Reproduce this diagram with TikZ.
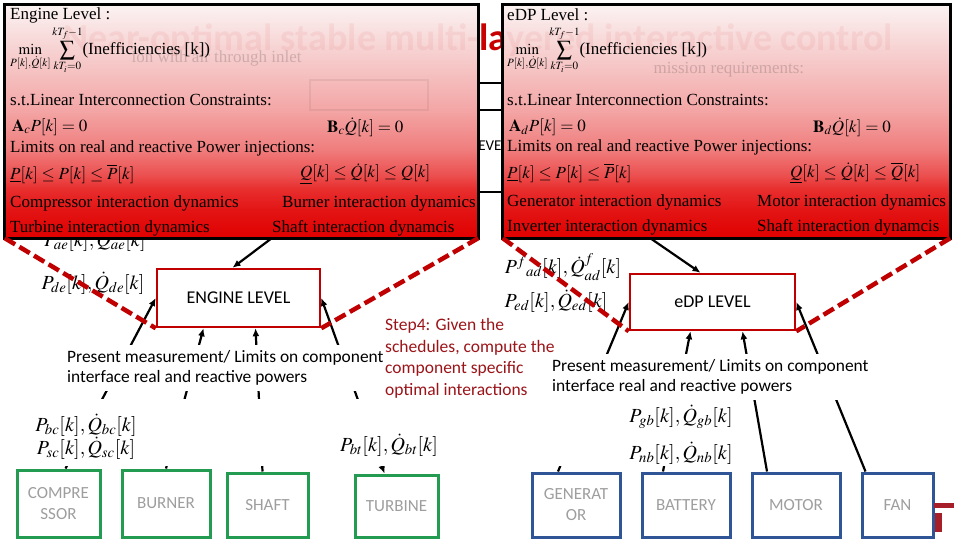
\documentclass[tikz,border=0pt]{standalone}
\usepackage{mathptmx}
\usepackage{fontspec}
\setmainfont{Carlito}
\newfontfamily\tnr{Liberation Serif}
\usetikzlibrary{arrows.meta,positioning,calc}
\definecolor{lvlred}{RGB}{192,0,0}
\definecolor{titlered}{RGB}{200,0,0}
\definecolor{stepred}{RGB}{155,20,25}
\definecolor{compgreen}{RGB}{35,155,80}
\definecolor{compblue}{RGB}{47,85,151}
\definecolor{logored}{RGB}{165,30,40}
\pgfdeclareverticalshading{redfade}{100bp}{rgb(0bp)=(0.88,0,0); rgb(25bp)=(0.88,0,0); rgb(31bp)=(0.89,0.08,0.08); rgb(35.5bp)=(0.91,0.18,0.18); rgb(38.5bp)=(0.925,0.31,0.31); rgb(44bp)=(0.94,0.49,0.49); rgb(52.5bp)=(0.955,0.65,0.65); rgb(63bp)=(0.965,0.79,0.79); rgb(75bp)=(0.985,0.95,0.95); rgb(100bp)=(0.985,0.95,0.95)}

\begin{document}
\begin{tikzpicture}[x=1pt,y=-1pt,
  lvl/.style={draw=lvlred, line width=2.5pt, fill=white, font=\fontsize{18}{21}\selectfont},
  engcomp/.style={draw=compgreen, line width=3pt, fill=white, align=center, text=black!38, font=\fontsize{17}{21}\selectfont},
  edpcomp/.style={engcomp, draw=compblue},
  ovfill/.style={shading=redfade, inner sep=0pt},
  ovtext/.style={anchor=west, inner sep=0pt, font=\tnr\fontsize{17}{20}\selectfont},
  ghost/.style={anchor=west, text=black, text opacity=0.16, font=\tnr\fontsize{17}{20}\selectfont},
  zoomline/.style={draw=lvlred, line width=4.5pt, dash pattern=on 12pt off 5pt},
  flow/.style={line width=2.2pt, -{Latex[length=8pt,width=7pt]}},
  flowboth/.style={line width=2.2pt, {Latex[length=8pt,width=7pt]}-{Latex[length=8pt,width=7pt]}},
  sig/.style={inner sep=1pt, font=\fontsize{20}{23}\selectfont},
  meas/.style={anchor=north west, align=left, fill=white, inner xsep=1pt, inner ysep=5pt, font=\fontsize{17.4}{20.5}\selectfont}]
\useasboundingbox (0,0) rectangle (960,540);
\fill[white] (0,0) rectangle (960,540);

\node[text=titlered, font=\bfseries\fontsize{38}{42}\selectfont] (title) at (478,40) {Near-optimal stable multi-layered interactive control};
\draw[line width=1.5pt] (458,83) rectangle (600,110);
\draw[line width=1.5pt] (400,110) rectangle (590,192);
\node[font=\fontsize{15}{18}\selectfont] (syslvl) at (490,146) {LEVEL};

\node[lvl, minimum width=163pt, minimum height=58pt] (engine) at (238.5,298) {ENGINE LEVEL};
\node[lvl, minimum width=165pt, minimum height=56pt] (edp) at (712.5,302) {eDP LEVEL};

\node[engcomp, minimum width=83pt, minimum height=67pt] (comp) at (58.5,503.5) {COMPRE\\SSOR};
\node[engcomp, minimum width=88pt, minimum height=67pt] (burner) at (166,503.5) {BURNER};
\node[engcomp, minimum width=81pt, minimum height=64pt] (shaft) at (267.5,505) {SHAFT};
\node[engcomp, minimum width=83pt, minimum height=62pt] (turbine) at (396.5,506) {TURBINE};
\node[edpcomp, minimum width=88pt, minimum height=64pt] (gen) at (576,505) {GENERAT\\OR};
\node[edpcomp, minimum width=88pt, minimum height=64pt] (battery) at (686,505) {BATTERY};
\node[edpcomp, minimum width=88pt, minimum height=64pt] (motor) at (796,505) {MOTOR};
\node[edpcomp, minimum width=71pt, minimum height=64pt] (fan) at (897.5,505) {FAN};

\node[sig] (pae) at (95,240) {$P_{ae}[k],\dot{Q}_{ae}[k]$};
\coordinate (engtap) at (272,238);
\coordinate (edptap) at (650,238);
\draw[flow] (engtap) -- ([xshift=-6pt]engine.north);
\draw[flow] (edptap) -- ([xshift=-12pt]edp.north);

\node[ovfill, minimum width=473pt, minimum height=233pt] (engov) at (241.5,121.5) {};
\node[ovfill, minimum width=447pt, minimum height=233pt] (edpov) at (726.5,121.5) {};

\node[text=titlered, text opacity=0.06, font=\bfseries\fontsize{38}{42}\selectfont] (titleghost) at (478,40) {Near-optimal stable multi-layered interactive control};
\node[ghost] (subl) at (128,58) {ion with air through inlet};
\node[ghost] (subr) at (650,70) {mission requirements:};
\draw[line width=1.5pt, draw opacity=0.06] (310,80) rectangle (428,110);

\draw[line width=3pt] (engov.north west) rectangle (engov.south east);
\draw[line width=3pt] (edpov.north west) rectangle (edpov.south east);

\node[ovtext, font=\tnr\fontsize{17}{20}\selectfont] (enghead) at (10,15) {Engine Level :};
\node[ovtext, font=\tnr\fontsize{15}{18}\selectfont] (engobj) at (10,50) {$\displaystyle\min_{P[k],\dot{Q}[k]}\sum_{kT_i=0}^{kT_f-1}$\fontsize{17}{20}\selectfont(Inefficiencies [k])};
\node[ovtext] (engst) at (10,100) {s.t.Linear Interconnection Constraints:};
\node[ovtext] (enga) at (12,127) {$\mathbf{A}_c P[k]=0$};
\node[ovtext] (engb) at (327,127) {$\mathbf{B}_c \dot{Q}[k]=0$};
\node[ovtext] (englim) at (10,148) {Limits on real and reactive Power injections:};
\node[ovtext] (engp) at (10,174) {$\underline{P}[k]\le P[k]\le \overline{P}[k]$};
\node[ovtext] (engq) at (300,174) {$\underline{Q}[k]\le \dot{Q}[k]\le Q[k]$};
\node[ovtext] (engcd) at (10,203) {Compressor interaction dynamics};
\node[ovtext] (engbd) at (282,203) {Burner interaction dynamics};
\node[ovtext] (engtd) at (10,228) {Turbine interaction dynamics};
\node[ovtext] (engsd) at (272,228) {Shaft interaction dynamcis};

\node[ovtext, font=\tnr\fontsize{17}{20}\selectfont] (edphead) at (507,15) {eDP Level :};
\node[ovtext, font=\tnr\fontsize{15}{18}\selectfont] (edpobj) at (507,50) {$\displaystyle\min_{P[k],\dot{Q}[k]}\sum_{kT_i=0}^{kT_f-1}$\fontsize{17}{20}\selectfont(Inefficiencies [k])};
\node[ovtext] (edpst) at (507,100) {s.t.Linear Interconnection Constraints:};
\node[ovtext] (edpa) at (509,127) {$\mathbf{A}_d P[k]=0$};
\node[ovtext] (edpb) at (813,127) {$\mathbf{B}_d \dot{Q}[k]=0$};
\node[ovtext] (edplim) at (507,147) {Limits on real and reactive Power injections:};
\node[ovtext] (edpp) at (507,173) {$\underline{P}[k]\le P[k]\le \overline{P}[k]$};
\node[ovtext] (edpq) at (790,173) {$\underline{Q}[k]\le \dot{Q}[k]\le \overline{Q}[k]$};
\node[ovtext] (edpgd) at (507,202) {Generator interaction dynamics};
\node[ovtext] (edpmd) at (757,202) {Motor interaction dynamics};
\node[ovtext] (edpid) at (507,227) {Inverter interaction dynamics};
\node[ovtext] (edpsd) at (757,227) {Shaft interaction dynamcis};

\draw[flow] ([xshift=7pt]comp.north) -- (engine.west);
\draw[flow] (burner.north) -- ([xshift=-35pt]engine.south);
\draw[flow] ([xshift=-5pt]shaft.north) -- ([xshift=17pt]engine.south);
\draw[flowboth] ([xshift=-12pt]turbine.north) -- (engine.east);
\draw[flow] ([xshift=-18pt]gen.north) -- (edp.west);
\draw[flow] ([xshift=-23pt]battery.north) -- ([xshift=-22pt]edp.south);
\draw[flow] ([xshift=-29pt]motor.north) -- ([xshift=30pt]edp.south);
\draw[flow] ([xshift=-32pt]fan.north) -- (edp.east);

\node[anchor=north west, align=left, inner sep=0pt, text=stepred, font=\fontsize{17.5}{21.7}\selectfont] (step) at (385,318) {Step4: Given the\\schedules, compute the\\component specific\\optimal interactions};
\fill[white] (20,399) rectangle (745,466);

\node[meas] (engmeas) at (66,345) {Present measurement/ Limits on component\\interface real and reactive powers};
\node[meas] (edpmeas) at (551,354) {Present measurement/ Limits on component\\interface real and reactive powers};

\node[sig] (pde) at (93,283) {$P_{de}[k],\dot{Q}_{de}[k]$};
\node[sig] (pfad) at (563,267) {$P^{f}{}_{ad}[k],\dot{Q}^{f}_{ad}[k]$};
\node[sig] (ped) at (556,301) {$P_{ed}[k],\dot{Q}_{ed}[k]$};
\node[sig] (pbc) at (86,425) {$P_{bc}[k],\dot{Q}_{bc}[k]$};
\node[sig] (psc) at (86,448) {$P_{sc}[k],\dot{Q}_{sc}[k]$};
\node[sig] (pbt) at (389,445) {$P_{bt}[k],\dot{Q}_{bt}[k]$};
\node[sig] (pgb) at (681,417) {$P_{gb}[k],\dot{Q}_{gb}[k]$};
\node[sig] (pnb) at (681,453) {$P_{nb}[k],\dot{Q}_{nb}[k]$};

\draw[zoomline] (engov.south west) -- (engine.south west);
\draw[zoomline] (engov.south east) -- (engine.south east);
\draw[zoomline] (edpov.south west) -- (edp.south west);
\draw[zoomline] (edpov.south east) -- (edp.south east);

\fill[logored] (934,503) rectangle (954,508);
\fill[logored] (935,513) rectangle (942,532);
\end{tikzpicture}
\end{document}
